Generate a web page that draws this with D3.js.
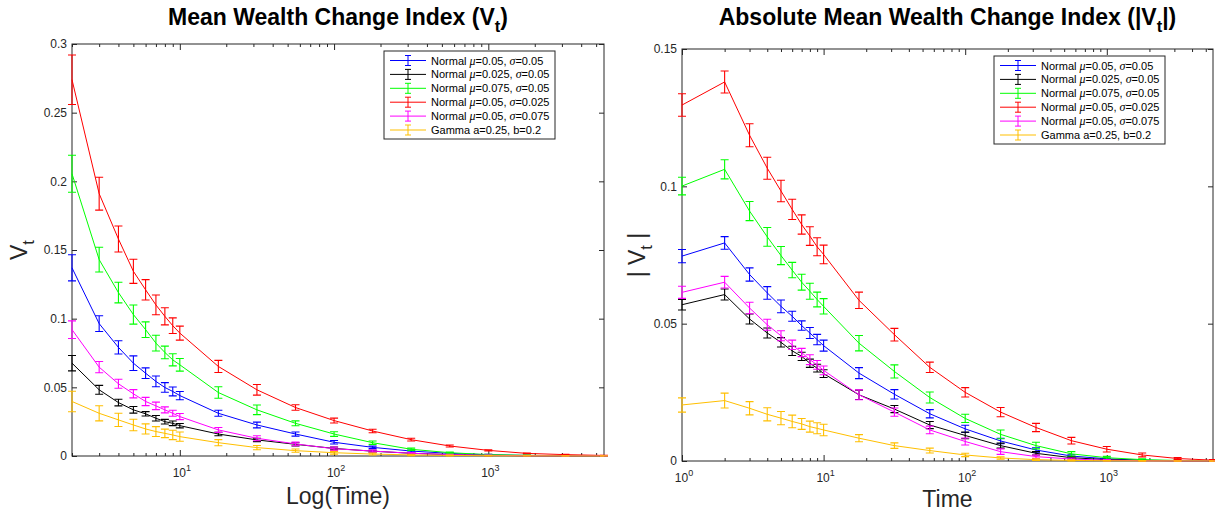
<!DOCTYPE html>
<html>
<head>
<meta charset="utf-8">
<script src="https://cdn.jsdelivr.net/npm/d3@7"></script>
<style>
  body { margin: 0; background: #fff; }
  svg { font-family: "Liberation Sans", Arial, sans-serif; }
</style>
</head>
<body>
<svg id="chart" width="1215" height="514"></svg>
<script>
// time points (2..10 then quarter decades)
const timesLeft = [2, 3, 4, 5, 6, 7, 8, 9, 10, 17.78, 31.62, 56.23, 100, 177.8, 316.2, 562.3, 1000, 1778, 3162, 5623];
const timesRight = [1, 2, 3, 4, 5, 6, 7, 8, 9, 10, 17.78, 31.62, 56.23, 100, 177.8, 316.2, 562.3, 1000, 1778, 3162, 5623];

const seriesLabels = [
    'Normal μ=0.05, σ=0.05',
    'Normal μ=0.025, σ=0.05',
    'Normal μ=0.075, σ=0.05',
    'Normal μ=0.05, σ=0.025',
    'Normal μ=0.05, σ=0.075',
    'Gamma a=0.25, b=0.2'
];

// V_t (left panel)
const vtBlue = [0.137, 0.0964, 0.0791, 0.0676, 0.0603, 0.0543, 0.0499, 0.047, 0.044, 0.0311, 0.0226, 0.016, 0.010, 0.0063, 0.0036, 0.0019, 0.0009, 0.0004, 0.0002, 0.0001];
const vtBlueErr = [0.0095, 0.0057, 0.0048, 0.0053, 0.0039, 0.0039, 0.0035, 0.0032, 0.003, 0.0022, 0.0021, 0.0015, 0.0013, 0.0009, 0.0007, 0.0005, 0.0003, 0.0002, 0.0001, 0.0001];
const vtBlack = [0.0676, 0.0482, 0.0389, 0.0336, 0.0307, 0.0275, 0.025, 0.0238, 0.0221, 0.016, 0.0117, 0.0085, 0.0055, 0.0035, 0.002, 0.001, 0.0005, 0.0002, 0.0001, 0.00005];
const vtBlackErr = [0.0056, 0.0032, 0.0024, 0.0024, 0.0016, 0.002, 0.0017, 0.0017, 0.0016, 0.0013, 0.0012, 0.0012, 0.001, 0.0007, 0.0005, 0.0003, 0.0002, 0.0001, 0.0001, 0.0001];
const vtGreen = [0.2055, 0.143, 0.119, 0.103, 0.092, 0.0822, 0.0754, 0.070, 0.0664, 0.0462, 0.0336, 0.0238, 0.016, 0.0097, 0.0049, 0.0024, 0.001, 0.0005, 0.0002, 0.0001];
const vtGreenErr = [0.0135, 0.009, 0.0075, 0.007, 0.0057, 0.0057, 0.0046, 0.0044, 0.0046, 0.0042, 0.0035, 0.0018, 0.0017, 0.0012, 0.0008, 0.0005, 0.0003, 0.0002, 0.0001, 0.0001];
const vtRed = [0.274, 0.191, 0.158, 0.1345, 0.121, 0.110, 0.1017, 0.0949, 0.0895, 0.0652, 0.0482, 0.0353, 0.0258, 0.0182, 0.0119, 0.0073, 0.0041, 0.0019, 0.001, 0.0004];
const vtRedErr = [0.018, 0.012, 0.0095, 0.0088, 0.0074, 0.0072, 0.0062, 0.0057, 0.0051, 0.0044, 0.0039, 0.002, 0.0018, 0.0013, 0.001, 0.0007, 0.0005, 0.0003, 0.0002, 0.0001];
const vtMagenta = [0.092, 0.0647, 0.0526, 0.0453, 0.0397, 0.0365, 0.0336, 0.0311, 0.0287, 0.019, 0.0129, 0.0088, 0.0053, 0.0036, 0.002, 0.001, 0.0005, 0.0002, 0.0001, 0.00005];
const vtMagentaErr = [0.0064, 0.0041, 0.0033, 0.003, 0.003, 0.0027, 0.0022, 0.0022, 0.0022, 0.0018, 0.0018, 0.0013, 0.0012, 0.0008, 0.0005, 0.0003, 0.0002, 0.0001, 0.0001, 0.0001];
const vtGamma = [0.0397, 0.0311, 0.0263, 0.0226, 0.0197, 0.0178, 0.0165, 0.0153, 0.0141, 0.0097, 0.0061, 0.0039, 0.0024, 0.0014, 0.0008, 0.0004, 0.0002, 0.0001, 0.00005, 0.00002];
const vtGammaErr = [0.0075, 0.0055, 0.0048, 0.0042, 0.0037, 0.0036, 0.0031, 0.0034, 0.0034, 0.0022, 0.0015, 0.0012, 0.001, 0.0007, 0.0005, 0.0003, 0.0002, 0.0001, 0.0001, 0.00005];

// |V_t| (right panel)
const absBlue = [0.0746, 0.0794, 0.0679, 0.0612, 0.0563, 0.0527, 0.0493, 0.0466, 0.0442, 0.042, 0.032, 0.0243, 0.0172, 0.0117, 0.0073, 0.004, 0.0018, 0.0008, 0.0003, 0.0001, 0.00005];
const absBlueErr = [0.0024, 0.0023, 0.0024, 0.0023, 0.0023, 0.0018, 0.0017, 0.002, 0.0019, 0.002, 0.002, 0.0017, 0.0015, 0.0013, 0.001, 0.0008, 0.0005, 0.0003, 0.0002, 0.0001, 0.0001];
const absBlack = [0.0569, 0.0606, 0.0517, 0.0466, 0.0432, 0.0401, 0.0381, 0.0356, 0.0338, 0.0318, 0.0241, 0.0189, 0.0131, 0.0093, 0.0056, 0.0028, 0.0012, 0.0005, 0.0002, 0.0001, 0.00005];
const absBlackErr = [0.0019, 0.002, 0.0018, 0.0018, 0.0017, 0.0017, 0.0015, 0.0015, 0.0014, 0.0014, 0.0017, 0.0013, 0.0013, 0.0012, 0.0009, 0.0006, 0.0004, 0.0002, 0.0001, 0.0001, 0.00005];
const absGreen = [0.1001, 0.1062, 0.091, 0.0816, 0.0748, 0.0695, 0.0651, 0.0618, 0.0588, 0.0563, 0.0429, 0.0326, 0.0231, 0.0155, 0.0097, 0.0056, 0.0026, 0.0012, 0.0005, 0.0002, 0.0001];
const absGreenErr = [0.0032, 0.0035, 0.0035, 0.0034, 0.0033, 0.0028, 0.0029, 0.0029, 0.0027, 0.0028, 0.0028, 0.0024, 0.002, 0.0015, 0.0016, 0.0012, 0.0008, 0.0005, 0.0003, 0.0001, 0.0001];
const absRed = [0.1296, 0.138, 0.1186, 0.1066, 0.0983, 0.0916, 0.0861, 0.0819, 0.078, 0.0752, 0.0585, 0.046, 0.0341, 0.025, 0.0178, 0.0122, 0.0074, 0.0043, 0.0022, 0.0009, 0.0003];
const absRedErr = [0.0041, 0.004, 0.0042, 0.004, 0.0039, 0.0037, 0.0035, 0.0034, 0.0033, 0.0034, 0.003, 0.0023, 0.0019, 0.0017, 0.0017, 0.0015, 0.0012, 0.001, 0.0007, 0.0004, 0.0002];
const absMagenta = [0.0614, 0.0651, 0.0557, 0.0496, 0.0456, 0.0423, 0.0395, 0.0369, 0.035, 0.033, 0.0241, 0.0178, 0.0113, 0.0071, 0.0034, 0.0016, 0.0007, 0.0003, 0.0001, 0.00005, 0.00002];
const absMagentaErr = [0.0022, 0.0021, 0.0021, 0.002, 0.0018, 0.0017, 0.0015, 0.0018, 0.0016, 0.0016, 0.0018, 0.0015, 0.0014, 0.0013, 0.001, 0.0006, 0.0004, 0.0002, 0.0001, 0.0001, 0.00005];
const absGamma = [0.0204, 0.022, 0.0192, 0.017, 0.0156, 0.0144, 0.0135, 0.0125, 0.0119, 0.0113, 0.0083, 0.0056, 0.0038, 0.0022, 0.0011, 0.0005, 0.0002, 0.0001, 0.00005, 0.00002, 0.00001];
const absGammaErr = [0.0026, 0.0027, 0.0024, 0.0024, 0.0024, 0.0023, 0.002, 0.002, 0.002, 0.0021, 0.0013, 0.001, 0.0009, 0.0006, 0.0004, 0.0003, 0.0002, 0.0001, 0.0001, 0.00005, 0.00005];

const yTicksLeft = [0, 0.05, 0.1, 0.15, 0.2, 0.25, 0.3];
const yTickLabelsLeft = ['0', '0.05', '0.1', '0.15', '0.2', '0.25', '0.3'];
const yTicksRight = [0, 0.05, 0.1, 0.15];
const yTickLabelsRight = ['0', '0.05', '0.1', '0.15'];
const xTicksLeft = [10, 100, 1000];
const xTicksRight = [1, 10, 100, 1000];

const colors = ['#0000ff', '#000000', '#00ff00', '#ff0000', '#ff00ff', '#ffbf00'];
const axisColor = '#262626';


class ErrorBarChart {

    constructor(_config, _data) {
        this.config = {
            parentElement: _config.parentElement,
            left: _config.left,
            top: _config.top,
            width: _config.width,
            height: _config.height,
            xDomain: _config.xDomain,
            yDomain: _config.yDomain,
            xTicks: _config.xTicks,
            yTicks: _config.yTicks,
            yTickLabels: _config.yTickLabels,
            title: _config.title,
            xLabel: _config.xLabel,
            xLabelY: _config.xLabelY,
            yLabel: _config.yLabel,
            yLabelX: _config.yLabelX
        }
        this.data = _data;
        this.initVis();
    }

    initVis() {
        let vis = this;
        const c = vis.config;

        vis.xScale = d3.scaleLog()
            .domain(c.xDomain)
            .range([0, c.width]);

        vis.yScale = d3.scaleLinear()
            .domain(c.yDomain)
            .range([c.height, 0]);

        vis.svg = d3.select(c.parentElement);

        vis.chart = vis.svg.append('g')
            .attr('transform', `translate(${c.left},${c.top})`);

        const minor = vis.xScale.ticks().filter(t => !c.xTicks.includes(t));
        const noDomain = g => g.select('.domain').remove();

        // x ticks, bottom and top, all pointing inwards
        vis.chart.append('g')
            .attr('transform', `translate(0,${c.height})`)
            .call(d3.axisBottom(vis.xScale).tickValues(c.xTicks).tickSize(-6).tickSizeOuter(0).tickFormat(''))
            .call(noDomain);
        vis.chart.append('g')
            .attr('transform', `translate(0,${c.height})`)
            .call(d3.axisBottom(vis.xScale).tickValues(minor).tickSize(-3).tickSizeOuter(0).tickFormat(''))
            .call(noDomain);
        vis.chart.append('g')
            .call(d3.axisTop(vis.xScale).tickValues(c.xTicks).tickSize(-6).tickSizeOuter(0).tickFormat(''))
            .call(noDomain);
        vis.chart.append('g')
            .call(d3.axisTop(vis.xScale).tickValues(minor).tickSize(-3).tickSizeOuter(0).tickFormat(''))
            .call(noDomain);

        vis.chart.append('g')
            .call(d3.axisLeft(vis.yScale).tickValues(c.yTicks).tickSize(-5).tickSizeOuter(0).tickFormat(''))
            .call(noDomain);
        vis.chart.append('g')
            .attr('transform', `translate(${c.width},0)`)
            .call(d3.axisRight(vis.yScale).tickValues(c.yTicks).tickSize(-5).tickSizeOuter(0).tickFormat(''))
            .call(noDomain);

        vis.chart.selectAll('g.tick line').attr('stroke', axisColor);

        vis.chart.append('rect')
            .attr('width', c.width)
            .attr('height', c.height)
            .attr('fill', 'none')
            .attr('stroke', axisColor);

        // tick labels
        vis.chart.selectAll('.ylab')
            .data(c.yTicks)
            .enter()
            .append('text')
            .attr('class', 'ylab')
            .attr('x', -5)
            .attr('y', d => vis.yScale(d))
            .attr('dy', '0.35em')
            .attr('text-anchor', 'end')
            .attr('font-size', 12)
            .attr('fill', axisColor)
            .text((d, i) => c.yTickLabels[i]);

        const xl = vis.chart.selectAll('.xlab')
            .data(c.xTicks)
            .enter()
            .append('text')
            .attr('class', 'xlab')
            .attr('x', d => vis.xScale(d) + 2)
            .attr('y', c.height + 21)
            .attr('text-anchor', 'middle')
            .attr('font-size', 12)
            .attr('fill', axisColor);
        xl.append('tspan').text('10');
        xl.append('tspan')
            .attr('dy', -6)
            .attr('font-size', 9)
            .text(d => Math.round(Math.log10(d)));

        // title
        vis.subText(vis.svg.append('text')
            .attr('x', c.left + c.width / 2)
            .attr('y', 25)
            .attr('text-anchor', 'middle')
            .attr('font-size', 23)
            .attr('font-weight', 'bold'), c.title, 7);

        vis.svg.append('text')
            .attr('x', c.left + c.width / 2)
            .attr('y', c.xLabelY)
            .attr('text-anchor', 'middle')
            .attr('font-size', 23)
            .attr('fill', axisColor)
            .text(c.xLabel);

        const cy = c.top + c.height / 2;
        vis.subText(vis.svg.append('text')
            .attr('transform', `translate(${c.yLabelX},${cy}) rotate(-90)`)
            .attr('text-anchor', 'middle')
            .attr('font-size', 23)
            .attr('fill', axisColor), c.yLabel, 7);

        vis.updateVis();
    }

    subText(sel, parts, shift) {
        sel.append('tspan').text(parts[0]);
        sel.append('tspan').attr('dy', shift).attr('font-size', '0.72em').text(parts[1]);
        if (parts[2]) sel.append('tspan').attr('dy', -shift).text(parts[2]);
    }

    updateVis() {
        let vis = this;

        vis.xValue = d => d.t;
        vis.yValue = d => d.v;

        vis.line = d3.line()
            .x(d => vis.xScale(vis.xValue(d)))
            .y(d => vis.yScale(vis.yValue(d)));

        vis.renderVis();
    }

    renderVis() {
        let vis = this;

        const series = vis.chart.selectAll('.series')
            .data(vis.data)
            .enter()
            .append('g')
            .attr('class', 'series')
            .attr('stroke', d => d.color)
            .attr('fill', 'none');

        series.append('path')
            .attr('d', d => vis.line(d.values))
            .attr('stroke-width', 1);

        const bars = series.selectAll('.bar')
            .data(d => d.values)
            .enter()
            .append('path')
            .attr('class', 'bar')
            .attr('stroke-width', 1.1)
            .attr('d', d => {
                const x = vis.xScale(d.t);
                const y0 = vis.yScale(d.v - d.e);
                const y1 = vis.yScale(d.v + d.e);
                return `M${x},${y0}V${y1}M${x - 4},${y1}H${x + 4}M${x - 4},${y0}H${x + 4}`;
            });

        // legend
        const lg = vis.chart.append('g')
            .attr('transform', 'translate(312,7)');
        lg.append('rect')
            .attr('width', 171)
            .attr('height', 88)
            .attr('fill', '#fff')
            .attr('stroke', axisColor);

        const rows = lg.selectAll('.row')
            .data(vis.data)
            .enter()
            .append('g')
            .attr('class', 'row')
            .attr('transform', (d, i) => `translate(0,${9.5 + i * 13.9})`);

        rows.append('path')
            .attr('stroke', d => d.color)
            .attr('fill', 'none')
            .attr('d', 'M6,0H42M24,-5V5M21,-5H27M21,5H27');

        const txt = rows.append('text')
            .attr('x', 47)
            .attr('y', 4)
            .attr('font-size', 11)
            .attr('fill', '#000');
        txt.each(function(d) {
            const t = d3.select(this);
            d.label.split(/([μσ])/).forEach(part => {
                if (part === 'μ' || part === 'σ') {
                    t.append('tspan')
                        .attr('font-family', '"Liberation Serif", serif')
                        .attr('font-style', 'italic')
                        .attr('font-size', 12)
                        .text(part);
                } else if (part) {
                    t.append('tspan').text(part);
                }
            });
        });
    }
}

function buildSeries(times, values, errors) {
    return seriesLabels.map((label, i) => ({
        label: label,
        color: colors[i],
        values: times.map((t, j) => ({t: t, v: values[i][j], e: errors[i][j]}))
    }));
}

const leftData = buildSeries(timesLeft,
    [vtBlue, vtBlack, vtGreen, vtRed, vtMagenta, vtGamma],
    [vtBlueErr, vtBlackErr, vtGreenErr, vtRedErr, vtMagentaErr, vtGammaErr]);

const rightData = buildSeries(timesRight,
    [absBlue, absBlack, absGreen, absRed, absMagenta, absGamma],
    [absBlueErr, absBlackErr, absGreenErr, absRedErr, absMagentaErr, absGammaErr]);

new ErrorBarChart({
    parentElement: '#chart',
    left: 72, top: 44, width: 532, height: 412,
    xDomain: [2, 5623], yDomain: [0, 0.3],
    xTicks: xTicksLeft, yTicks: yTicksLeft, yTickLabels: yTickLabelsLeft,
    title: ['Mean Wealth Change Index (V', 't', ')'],
    xLabel: 'Log(Time)', xLabelY: 504,
    yLabel: ['V', 't', ''], yLabelX: 27
}, leftData);

new ErrorBarChart({
    parentElement: '#chart',
    left: 682, top: 49, width: 531, height: 412,
    xDomain: [1, 5623], yDomain: [0, 0.15],
    xTicks: xTicksRight, yTicks: yTicksRight, yTickLabels: yTickLabelsRight,
    title: ['Absolute Mean Wealth Change Index (|V', 't', '|)'],
    xLabel: 'Time', xLabelY: 507,
    yLabel: ['| V', 't', ' |'], yLabelX: 645
}, rightData);
</script>
</body>
</html>
